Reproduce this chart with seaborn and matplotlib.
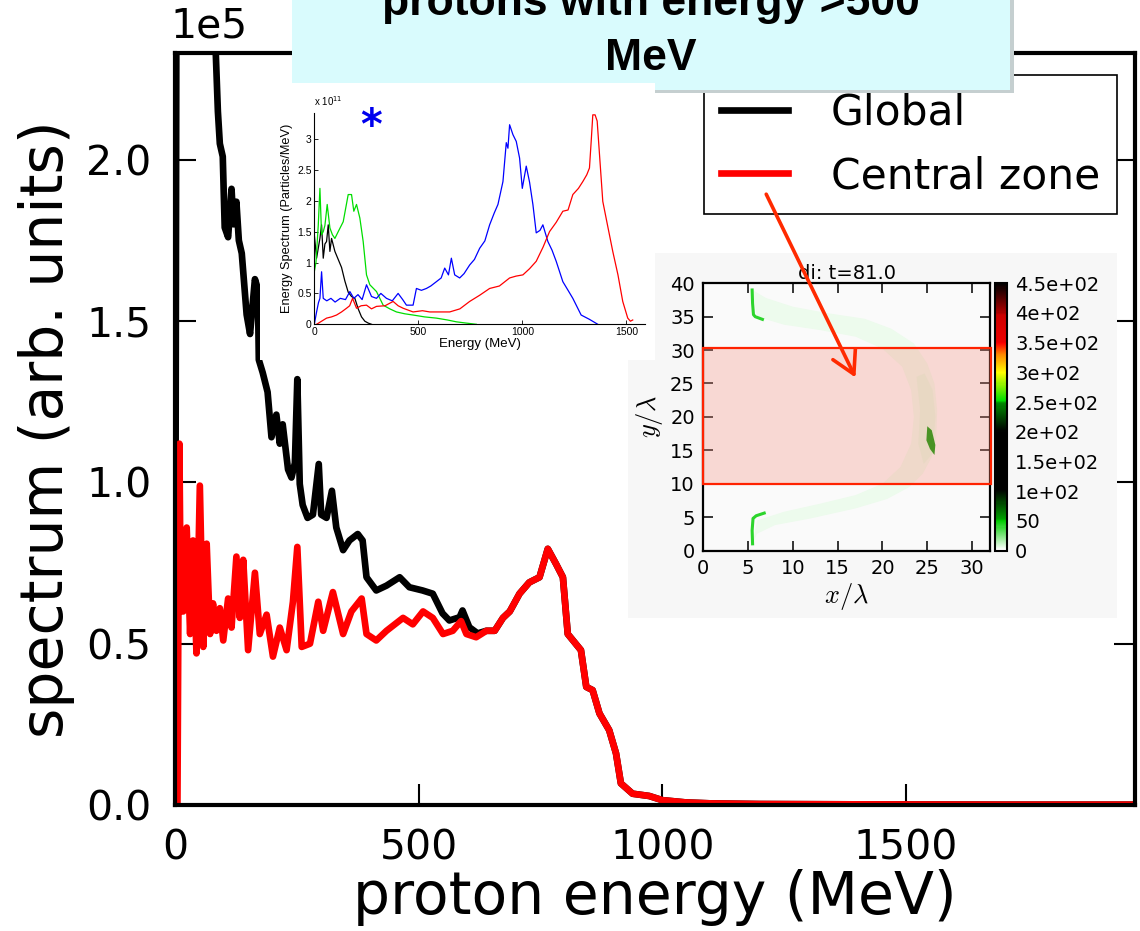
import numpy as np
import matplotlib
matplotlib.use("Agg")
import matplotlib.pyplot as plt
import seaborn as sns
from matplotlib.colors import LinearSegmentedColormap, Normalize
from matplotlib.cm import ScalarMappable
from matplotlib.patches import Rectangle, FancyArrowPatch
from matplotlib.ticker import FuncFormatter

# ---------------- main spectrum: proton energy (MeV) vs spectrum ----------------
central_energy = [0, 5, 7, 9, 12, 17, 24, 31, 37, 44, 51, 58, 65, 72, 78, 85, 92, 99,
                  109, 116, 126, 133, 140, 150, 164, 174, 188, 201, 215, 229, 242, 251,
                  260, 277, 294, 304, 324, 345, 362, 383, 393, 413, 434, 468, 488, 509,
                  529, 550, 570, 587, 598, 618, 639, 656, 673, 687, 707, 727, 748, 765,
                  782, 796, 806, 833, 844, 857, 871, 891, 905, 915, 939, 973, 1000,
                  1048, 1100, 1200, 1400, 1700, 1970]
central_counts = [0, 0, 60e3, 112e3, 60e3, 60e3, 86e3, 53e3, 82e3, 47e3, 99e3, 49e3,
                  81e3, 53e3, 62.5e3, 54e3, 61e3, 51e3, 64e3, 55e3, 77e3, 58e3, 76e3,
                  48e3, 72e3, 53e3, 59e3, 46e3, 55e3, 48e3, 63e3, 80e3, 49e3, 50e3,
                  63e3, 54e3, 66e3, 53e3, 60e3, 64e3, 53e3, 51e3, 54e3, 58e3, 56e3,
                  60e3, 58e3, 53e3, 54e3, 57e3, 53e3, 52e3, 54e3, 54e3, 58e3, 60e3,
                  65.5e3, 69e3, 70.6e3, 79.4e3, 74.7e3, 70.6e3, 53e3, 48e3, 36.6e3,
                  35.6e3, 28.4e3, 23.2e3, 16e3, 6.7e3, 3.5e3, 2.8e3, 1.5e3, 0.8e3,
                  0.5e3, 0.3e3, 0.2e3, 0.1e3, 0.1e3]

# global spectrum below ~640 MeV; above that it coincides with the central zone
global_energy_low = [0, 3, 6, 30, 60, 82, 88, 92, 98, 102, 109, 116, 120, 126, 131,
                     137, 147, 154, 164, 170, 172, 180, 190, 198, 208, 215, 221, 232,
                     239, 246, 251, 256, 262, 272, 283, 295, 300, 311, 322, 331, 345,
                     358, 375, 385, 393, 413, 434, 461, 481, 508, 529, 549, 563, 584,
                     590, 604, 621, 639]
global_counts_low = [0, 260e3, 500e3, 420e3, 320e3, 240e3, 215e3, 205e3, 201e3, 179e3,
                     176e3, 191e3, 180e3, 187e3, 175e3, 171e3, 152e3, 146e3, 163e3,
                     160e3, 138e3, 134e3, 128e3, 114e3, 121e3, 112e3, 118e3, 104e3,
                     101.5e3, 106e3, 132e3, 99.5e3, 93e3, 89e3, 90e3, 105.7e3, 90e3,
                     89e3, 97.4e3, 86e3, 79e3, 82e3, 84e3, 82e3, 70.6e3, 66.5e3, 68e3,
                     70.6e3, 67.5e3, 66.5e3, 65.5e3, 59.4e3, 57.2e3, 58.2e3, 60.3e3,
                     55.1e3, 53.2e3, 54e3]
y_scale = 1e5

# ---------------- inset: energy spectra (x 1e11 particles/MeV) ----------------
inset_black_e = [0, 11, 27, 35, 43, 51, 59, 67, 75, 83, 99, 115, 131, 147, 163, 179,
                 195, 211, 227, 243, 259, 275]
inset_black_y = [1.45, 1.07, 1.39, 1.61, 1.07, 1.30, 1.34, 1.61, 1.18, 1.39, 1.18, 1.05,
                 0.92, 0.70, 0.52, 0.45, 0.42, 0.25, 0.12, 0.05, 0.02, 0.0]
inset_green_e = [0, 8, 19, 27, 35, 43, 51, 62, 75, 87, 99, 115, 139, 163, 179, 190, 203,
                 219, 235, 251, 267, 299, 331, 363, 395, 435, 475, 530, 587, 640, 683,
                 730, 779]
inset_green_y = [0.85, 1.0, 1.6, 2.2, 1.45, 1.5, 1.6, 1.94, 1.56, 1.45, 1.39, 1.5, 1.66,
                 2.1, 2.1, 1.83, 1.94, 1.72, 1.34, 0.8, 0.64, 0.53, 0.31, 0.25, 0.2,
                 0.17, 0.15, 0.12, 0.1, 0.07, 0.04, 0.02, 0.0]
inset_blue_e = [0, 11, 20, 27, 35, 43, 60, 80, 100, 125, 150, 171, 190, 210, 230, 251,
                275, 299, 320, 347, 375, 403, 425, 443, 475, 491, 515, 539, 560, 587,
                610, 627, 645, 659, 675, 699, 720, 747, 770, 795, 820, 843, 865, 883,
                907, 923, 931, 939, 955, 971, 987, 1000, 1019, 1035, 1051, 1067, 1085,
                1099, 1123, 1143, 1163, 1195, 1220, 1243, 1283, 1323, 1363]
inset_blue_y = [0, 0.2, 0.35, 0.42, 0.85, 0.42, 0.38, 0.42, 0.36, 0.42, 0.40, 0.53, 0.42,
                0.48, 0.40, 0.64, 0.45, 0.42, 0.50, 0.42, 0.38, 0.50, 0.40, 0.31, 0.31,
                0.58, 0.55, 0.58, 0.62, 0.69, 0.75, 0.91, 0.80, 1.07, 0.80, 0.75, 0.82,
                0.96, 1.05, 1.23, 1.35, 1.61, 1.80, 1.94, 2.31, 2.94, 2.85, 3.23, 3.07,
                2.96, 2.69, 2.20, 2.56, 2.30, 1.94, 1.48, 1.52, 1.61, 1.34, 1.20, 1.02,
                0.69, 0.55, 0.42, 0.15, 0.08, 0.0]
inset_red_e = [11, 35, 59, 83, 107, 131, 155, 170, 184, 203, 225, 251, 275, 299, 340,
               379, 403, 427, 475, 520, 555, 600, 651, 700, 747, 795, 843, 890, 939, 970,
               1003, 1035, 1067, 1100, 1131, 1163, 1195, 1220, 1243, 1270, 1291, 1310,
               1323, 1332, 1339, 1350, 1360, 1387, 1410, 1435, 1460, 1483, 1507, 1520,
               1531]
inset_red_y = [0, 0.05, 0.1, 0.12, 0.15, 0.2, 0.26, 0.3, 0.42, 0.26, 0.3, 0.31, 0.25,
               0.29, 0.3, 0.37, 0.30, 0.26, 0.2, 0.22, 0.2, 0.2, 0.2, 0.25, 0.37, 0.47,
               0.58, 0.62, 0.75, 0.78, 0.80, 0.90, 1.02, 1.25, 1.5, 1.65, 1.83, 1.85,
               2.1, 2.2, 2.31, 2.42, 2.53, 3.0, 3.39, 3.39, 3.29, 1.99, 1.60, 1.18, 0.8,
               0.37, 0.1, 0.05, 0.07]
inset_yticks = [0, 0.5, 1, 1.5, 2, 2.5, 3]
inset_ytick_labels = ["0", "0.5", "1", "1.5", "2", "2.5", "3"]

# ---------------- inset: ion density map at t = 81.0 ----------------
shell_outer_x = [5.5, 7, 10, 14, 18, 21, 23.5, 25, 25.8, 26.1, 26, 25.5, 24.5, 23, 20.5,
                 17, 12, 8, 6, 5.5]
shell_outer_y = [39, 37.8, 36.5, 35.5, 34.7, 33.2, 31, 28, 25, 21, 17, 14, 11.5, 9.5,
                 7.7, 6.3, 4.8, 3.8, 2.5, 1]
shell_inner_x = [6, 9, 13, 17, 20, 22, 23.2, 23.5, 23.2, 22.2, 20, 17, 13, 9, 6]
shell_inner_y = [4.5, 5.8, 7, 8.3, 10, 12.5, 16, 20, 24, 27.5, 30.2, 32, 33, 33.8, 35]
front_x = [23.8, 24.7, 25.6, 25.9, 25.6, 24.6, 24.0, 24.2]
front_y = [26, 26.5, 24, 20, 14.5, 13, 16, 21]
spot_x = [25.0, 25.5, 25.9, 25.8, 25.3, 24.9]
spot_y = [18.6, 18.0, 15.8, 14.3, 15.2, 16.5]
edge_top_x = [5.45, 5.5, 5.6, 5.8, 6.6]
edge_top_y = [39, 37, 35.3, 35, 34.6]
edge_bot_x = [5.5, 5.45, 5.55, 5.9, 6.8]
edge_bot_y = [1, 3, 4.8, 5.2, 5.6]
shell_level, front_level, spot_level, edge_level = 4, 7, 56, 42
zone_x = (0, 32.1)
zone_y = (10, 30.3)

cbar_ticks = [0, 50, 100, 150, 200, 250, 300, 350, 400, 450]
cbar_labels = ["0", "50", "1e+02", "1.5e+02", "2e+02", "2.5e+02", "3e+02",
               "3.5e+02", "4e+02", "4.5e+02"]
cmap_nodes = [0, 49, 52, 102, 200, 248, 252, 300, 330, 350, 352, 398, 402, 450]
cmap_colors = ["#ffffff", "#00cc00", "#00a000", "#000000", "#000000", "#008800",
               "#00dd00", "#ffff00", "#ff8800", "#ff0000", "#ee0000", "#cc0000",
               "#aa0000", "#000000"]

W, H = 1140, 931
fig = plt.figure(figsize=(W / 100, H / 100), dpi=100)


def rect(x0, y0, x1, y1):
    """Pixel box (origin top-left) -> figure-fraction rectangle."""
    return [x0 / W, 1 - y1 / H, (x1 - x0) / W, (y1 - y0) / H]


def plain_panel(r, color, z):
    p = fig.add_axes(r, zorder=z)
    p.set_facecolor(color)
    p.set_xticks([])
    p.set_yticks([])
    for s in p.spines.values():
        s.set_visible(False)
    return p


# ---------------- main axes ----------------
ax = fig.add_axes(rect(175, 53, 1135, 805), zorder=0)
global_energy = global_energy_low + [e for e in central_energy if e > global_energy_low[-1]]
global_counts = global_counts_low + [c for e, c in zip(central_energy, central_counts)
                                     if e > global_energy_low[-1]]
sns.lineplot(x=global_energy, y=global_counts, ax=ax, color="black", lw=4.8,
             label="Global", estimator=None, sort=False)
sns.lineplot(x=central_energy, y=central_counts, ax=ax, color="red", lw=4.8,
             label="Central zone", estimator=None, sort=False)
ax.set_xlim(0, 1970)
ax.set_ylim(0, 2.331e5)
ax.set_xticks([0, 500, 1000, 1500])
ax.set_yticks([0, 0.5e5, 1.0e5, 1.5e5, 2.0e5])
ax.yaxis.set_major_formatter(FuncFormatter(lambda v, _: f"{v / y_scale:.1f}"))
ax.tick_params(direction="in", top=True, right=True, length=15, width=1.5,
               labelsize=29.5, pad=17)
for s in ax.spines.values():
    s.set_linewidth(3)
ax.set_xlabel("proton energy (MeV)", fontsize=42, labelpad=0)
ax.set_ylabel("spectrum (arb. units)", fontsize=42, labelpad=8)
fig.text(170 / W, 1 - 37 / H, f"1e{int(np.log10(y_scale))}", fontsize=29.5,
         ha="left", va="baseline")
leg = ax.legend(loc="upper right", bbox_to_anchor=(0.981, 0.9707), borderaxespad=0,
                fontsize=30.5, handlelength=1.58, handletextpad=1.0, labelspacing=0.5,
                borderpad=0.4, fancybox=False, framealpha=1, edgecolor="black")
leg.get_frame().set_linewidth(1.2)

# ---------------- density map panel ----------------
plain_panel(rect(628, 253, 1117, 618), "#f7f7f7", 1)
hx = fig.add_axes(rect(703.3, 283.3, 990, 550.5), zorder=2)
hx.set_facecolor("#fafafa")
cmap = LinearSegmentedColormap.from_list(
    "density", [(n / 450, c) for n, c in zip(cmap_nodes, cmap_colors)])
norm = Normalize(0, 450)
hx.fill(shell_outer_x + shell_inner_x, shell_outer_y + shell_inner_y,
        color=cmap(norm(shell_level)), lw=0)
hx.fill(front_x, front_y, color=cmap(norm(front_level)), lw=0)
hx.fill(spot_x, spot_y, color=cmap(norm(spot_level)), lw=0)
hx.plot(edge_top_x, edge_top_y, color=cmap(norm(edge_level)), lw=2.2)
hx.plot(edge_bot_x, edge_bot_y, color=cmap(norm(edge_level)), lw=2.2)
hx.add_patch(Rectangle((zone_x[0], zone_y[0]), zone_x[1] - zone_x[0],
                       zone_y[1] - zone_y[0], facecolor=(0.96, 0.55, 0.48, 0.3),
                       edgecolor="#ff2200", lw=1.6, clip_on=False, zorder=3))
hx.set_xlim(0, 32)
hx.set_ylim(0, 40)
hx.set_xticks([0, 5, 10, 15, 20, 25, 30])
hx.set_yticks([0, 5, 10, 15, 20, 25, 30, 35, 40])
hx.tick_params(direction="in", top=True, right=True, length=7, width=1.1,
               labelsize=14, pad=6)
for s in hx.spines.values():
    s.set_linewidth(1.6)
hx.set_title("di: t=81.0", fontsize=14, pad=3)
hx.set_xlabel(r"$x/\lambda$", fontsize=19, labelpad=2, math_fontfamily="cm")
hx.set_ylabel(r"$y/\lambda$", fontsize=19, labelpad=4, math_fontfamily="cm")

cax = fig.add_axes(rect(995, 283.3, 1006.7, 550.5), zorder=2)
cb = fig.colorbar(ScalarMappable(norm=norm, cmap=cmap), cax=cax)
cb.set_ticks(cbar_ticks)
cb.set_ticklabels(cbar_labels)
cax.tick_params(length=0, labelsize=14, pad=6)
cb.outline.set_linewidth(1.5)

# ---------------- title banner ----------------
plain_panel(rect(295, -10, 1014, 93), "#c5cfd0", 3)
plain_panel(rect(292, -10, 1010, 90), "#d9fbfd", 3.1)
for txt, base in [("protons with energy >500", 15), ("MeV", 70)]:
    fig.text(651 / W, 1 - base / H, txt, ha="center", va="baseline", fontsize=32,
             fontweight="bold", family="Liberation Sans", zorder=3.2)

# ---------------- spectrum inset ----------------
plain_panel(rect(260, 83, 655, 360), "white", 4)
sx = fig.add_axes(rect(314.3, 113, 645, 324.3), zorder=5)
sx.set_facecolor("white")
for e, y, c in [(inset_black_e, inset_black_y, "black"),
                (inset_green_e, inset_green_y, "#00dd00"),
                (inset_blue_e, inset_blue_y, "#0000ff"),
                (inset_red_e, inset_red_y, "#ff0000")]:
    sns.lineplot(x=e, y=y, ax=sx, color=c, lw=0.9, estimator=None, sort=False)
sx.set_xlim(0, 1590)
sx.set_ylim(0, 3.42)
sx.set_xticks([0, 500, 1000, 1500])
sx.set_yticks(inset_yticks)
sx.set_yticklabels(inset_ytick_labels)
sx.spines["top"].set_visible(False)
sx.spines["right"].set_visible(False)
for s in ("left", "bottom"):
    sx.spines[s].set_linewidth(0.8)
sx.tick_params(direction="in", length=3, width=0.6, labelsize=7.5, pad=2)
for lab in sx.get_xticklabels() + sx.get_yticklabels():
    lab.set_family("Liberation Sans")
sx.set_xlabel("Energy (MeV)", fontsize=9.5, labelpad=1, family="Liberation Sans")
sx.set_ylabel("Energy Spectrum (Particles/MeV)", fontsize=9.2, labelpad=3,
              family="Liberation Sans")
sx.text(0, 1.025, r"x 10$^{11}$", transform=sx.transAxes, fontsize=7,
        family="Liberation Sans", va="bottom")
sx.text(275, 3.2, "*", color="#0000ee", fontsize=30, fontweight="bold",
        ha="center", va="center", family="DejaVu Sans")

# ---------------- pointer from the legend to the central zone ----------------
fig.add_artist(FancyArrowPatch((765 / W, 1 - 191.7 / H), (856.7 / W, 1 - 380 / H),
                               transform=fig.transFigure,
                               arrowstyle="->,head_length=0.8,head_width=0.45",
                               mutation_scale=20, color="#ff2a00", lw=2.6, zorder=10))

fig.savefig("out.png", dpi=100)
